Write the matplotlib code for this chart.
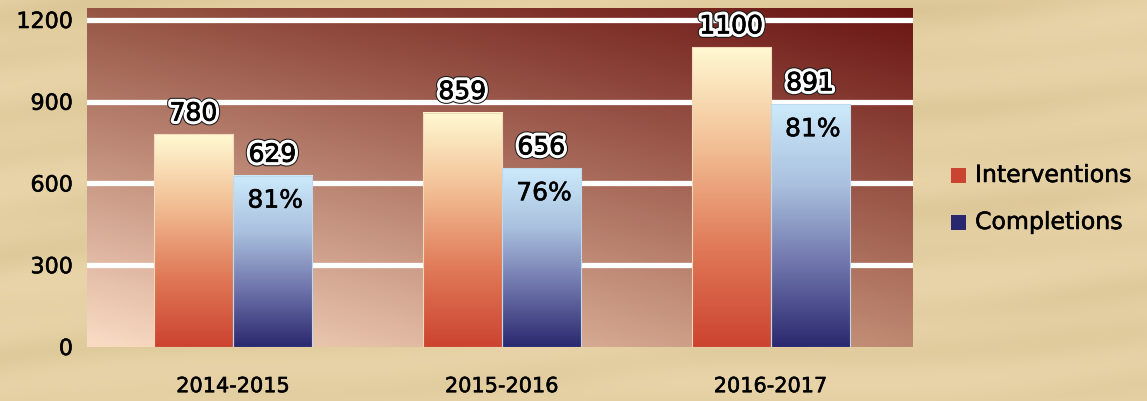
import numpy as np
import matplotlib
matplotlib.use("Agg")
import matplotlib.pyplot as plt
from matplotlib.colors import LinearSegmentedColormap, to_rgb
from matplotlib.patches import Rectangle
import matplotlib.patheffects as pe

plt.rcParams['font.family'] = ['DejaVu Sans']

# ---- data ----
categories = ["2014-2015", "2015-2016", "2016-2017"]
interventions = [780, 859, 1100]
completions = [629, 656, 891]
percent_labels = ["81%", "76%", "81%"]
series_names = ["Interventions", "Completions"]
series_colors = ["#C94431", "#29286F"]
yticks = [0, 300, 600, 900, 1200]

W, H = 1147, 401
fig = plt.figure(figsize=(W / 100, H / 100), dpi=100)
fig.patch.set_facecolor("#E6D2A5")

# subtle parchment mottling (decorative background)
bg = fig.add_axes([0, 0, 1, 1], zorder=-10)
yy, xx = np.mgrid[0:1:200j, 0:1:400j]
tex = (0.45 * np.sin(yy * 23 + np.sin(xx * 6.3) * 2.1) * np.sin(xx * 4.7 + 1.3)
       + 0.3 * np.sin(yy * 51 + xx * 9 + np.sin(xx * 13) * 0.8)
       + 0.25 * np.sin(xx * 17 + yy * 5) * np.sin(yy * 9 + 0.7))
base = np.array(to_rgb("#E8D4A8"))
dark = np.array(to_rgb("#D3BC8B"))
t = (tex - tex.min()) / (tex.max() - tex.min())
t = t ** 1.6
img = base[None, None, :] * (1 - 0.55 * t[..., None]) + dark[None, None, :] * (0.55 * t[..., None])
bg.imshow(img, extent=(0, 1, 0, 1), aspect="auto", interpolation="bilinear")
bg.set_axis_off()

left, right, bottom, top = 87, 913, 347, 8
ax = fig.add_axes([left / W, 1 - bottom / H, (right - left) / W, (bottom - top) / H])

# plot background gradient (bilinear between corner colours)
TL = np.array(to_rgb("#975545")); TR = np.array(to_rgb("#6A1412"))
BL = np.array(to_rgb("#FADCC5")); BR = np.array(to_rgb("#BE8870"))
v, u = np.mgrid[1:0:100j, 0:1:200j]
grad = ((1 - u)[..., None] * (v[..., None] * TL + (1 - v)[..., None] * BL)
        + u[..., None] * (v[..., None] * TR + (1 - v)[..., None] * BR))
ax.imshow(grad, extent=(0, 1, 0, 1), transform=ax.transAxes, aspect="auto",
          interpolation="bilinear", zorder=0)

ymax = 1244
xlim = (-0.543, 2.530)
for yv in yticks[1:]:
    ax.axhline(yv, color="white", lw=3.8, zorder=1)

x = np.arange(len(categories))
bw = 0.294
bars_i = ax.bar(x - bw / 2, interventions, bw, color="none", zorder=2)
bars_c = ax.bar(x + bw / 2, completions, bw, color="none", zorder=2)

cm_i = LinearSegmentedColormap.from_list("i", ["#CC4330", "#E07A58", "#F2BE94", "#FFF9D2"])
cm_c = LinearSegmentedColormap.from_list("c", ["#2A286F", "#6E73AA", "#A9C0DE", "#CDEAFB"])
gv = np.linspace(0, 1, 256)[::-1].reshape(-1, 1)
for bars, cm, ec in ((bars_i, cm_i, "#F3D9B8"), (bars_c, cm_c, "#BFD8EE")):
    for r in bars:
        x0, w, h = r.get_x(), r.get_width(), r.get_height()
        ax.imshow(gv, cmap=cm, extent=(x0, x0 + w, 0, h), aspect="auto",
                  interpolation="bilinear", zorder=2)
        ax.add_patch(Rectangle((x0, 0), w, h, fill=False, ec=ec, lw=0.8, zorder=3))

heavy = [pe.Stroke(linewidth=0.4, foreground="black"), pe.Normal()]
outline = [pe.Stroke(linewidth=6.5, foreground="#1a1a1a"),
           pe.Stroke(linewidth=5, foreground="white"),
           pe.Stroke(linewidth=0.6, foreground="black"), pe.Normal()]
for bars, vals in ((bars_i, interventions), (bars_c, completions)):
    for r, val in zip(bars, vals):
        ax.annotate(str(val), (r.get_x() + r.get_width() / 2, r.get_height()),
                    xytext=(0, 10), textcoords="offset points", ha="center",
                    va="baseline", fontsize=18, color="black", zorder=5,
                    path_effects=outline)
for r, lab in zip(bars_c, percent_labels):
    ax.annotate(lab, (r.get_x() + r.get_width() / 2, r.get_height()),
                xytext=(2, -18), textcoords="offset points", ha="center",
                va="center", fontsize=18, color="black", zorder=5,
                path_effects=heavy)

ax.set_xlim(*xlim)
ax.set_ylim(0, ymax)
ax.set_xticks(x)
ax.set_xticklabels(categories, fontsize=15)
ax.set_yticks(yticks)
ax.set_yticklabels([str(v) for v in yticks], fontsize=16)
for lab in ax.get_xticklabels() + ax.get_yticklabels():
    lab.set_path_effects(heavy)
ax.tick_params(axis="x", length=0, pad=21)
ax.tick_params(axis="y", length=0, pad=10)
for s in ax.spines.values():
    s.set_visible(False)

# legend
for i, (name, col) in enumerate(zip(series_names, series_colors)):
    yc = 175 + i * 47
    fig.patches.append(Rectangle((951 / W, 1 - (yc + 7.5) / H), 15 / W, 15 / H,
                                 transform=fig.transFigure, fc=col, ec="none"))
    fig.text(975 / W, 1 - yc / H, name, fontsize=17, va="center", ha="left",
             color="black", path_effects=heavy)

fig.savefig("out.png", dpi=100, facecolor=fig.get_facecolor())
